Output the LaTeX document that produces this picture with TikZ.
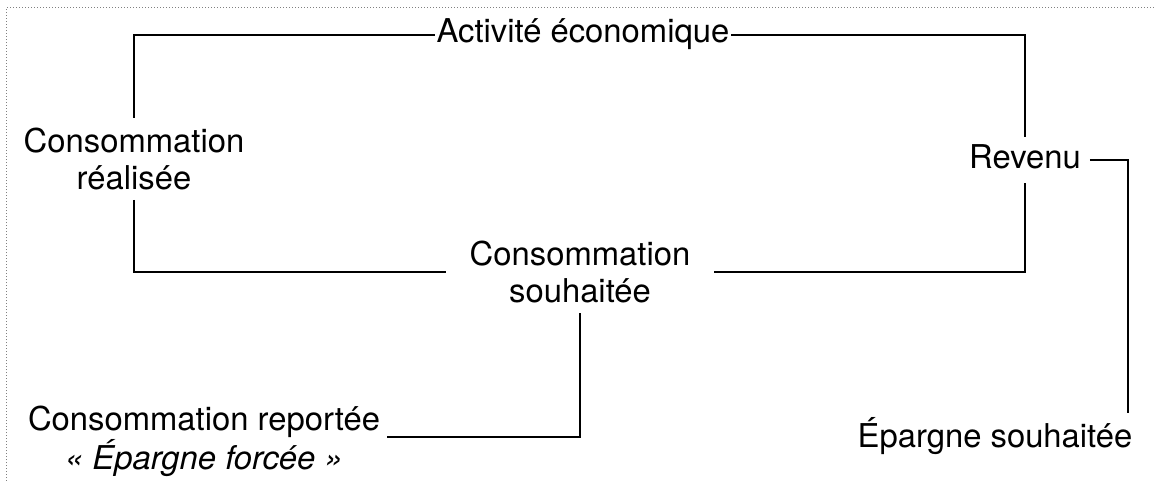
\documentclass[tikz,border=0pt]{standalone}
\usepackage{fontspec}
\setmainfont{TeX Gyre Heros}
\begin{document}
\begin{tikzpicture}[x=0.5pt,y=-0.5pt,
  lbl/.style={font=\fontsize{16.4}{18.5}\selectfont, align=center, outer sep=0pt},
  oneline/.style={lbl, text height=11pt, text depth=3pt},
  link/.style={line width=0.9pt, line join=miter},
  frame/.style={gray, line width=0.5pt, dash pattern=on 0.5pt off 1pt}]
  \useasboundingbox (0,0) rectangle (1155,481);
  % frame edge
  \draw[frame] (6,481) -- (6,8) -- (1155,8);

  % labels
  \node[oneline, inner xsep=1pt, inner ysep=0pt] (act) at (583,35) {Activité économique};
  \node[lbl, inner xsep=0pt, inner ysep=5pt] (real) at (134,159) {Consommation\\réalisée};
  \node[oneline, inner xsep=4.5pt, inner ysep=4.5pt] (rev) at (1025,160) {Revenu};
  \node[lbl, inner xsep=12pt, inner ysep=5pt] (souh) at (580,272) {Consommation\\souhaitée};
  \node[lbl, inner xsep=3.5pt, inner ysep=0pt] (rep) at (204,441) {Consommation reportée\\\textit{« Épargne forcée »}};
  \node[oneline, inner xsep=0pt, inner ysep=6pt] (ep) at (995,439) {Épargne souhaitée};

  % connectors
  \draw[link] (act.west) -| (real.north);
  \draw[link] (act.east) -| (rev.north);
  \draw[link] (real.south) |- (souh.west);
  \draw[link] (rev.south) |- (souh.east);
  \draw[link] (rev.east) -| ([xshift=66.5pt]ep.north);
  \draw[link] (souh.south) |- ([yshift=2pt]rep.east);
\end{tikzpicture}
\end{document}
